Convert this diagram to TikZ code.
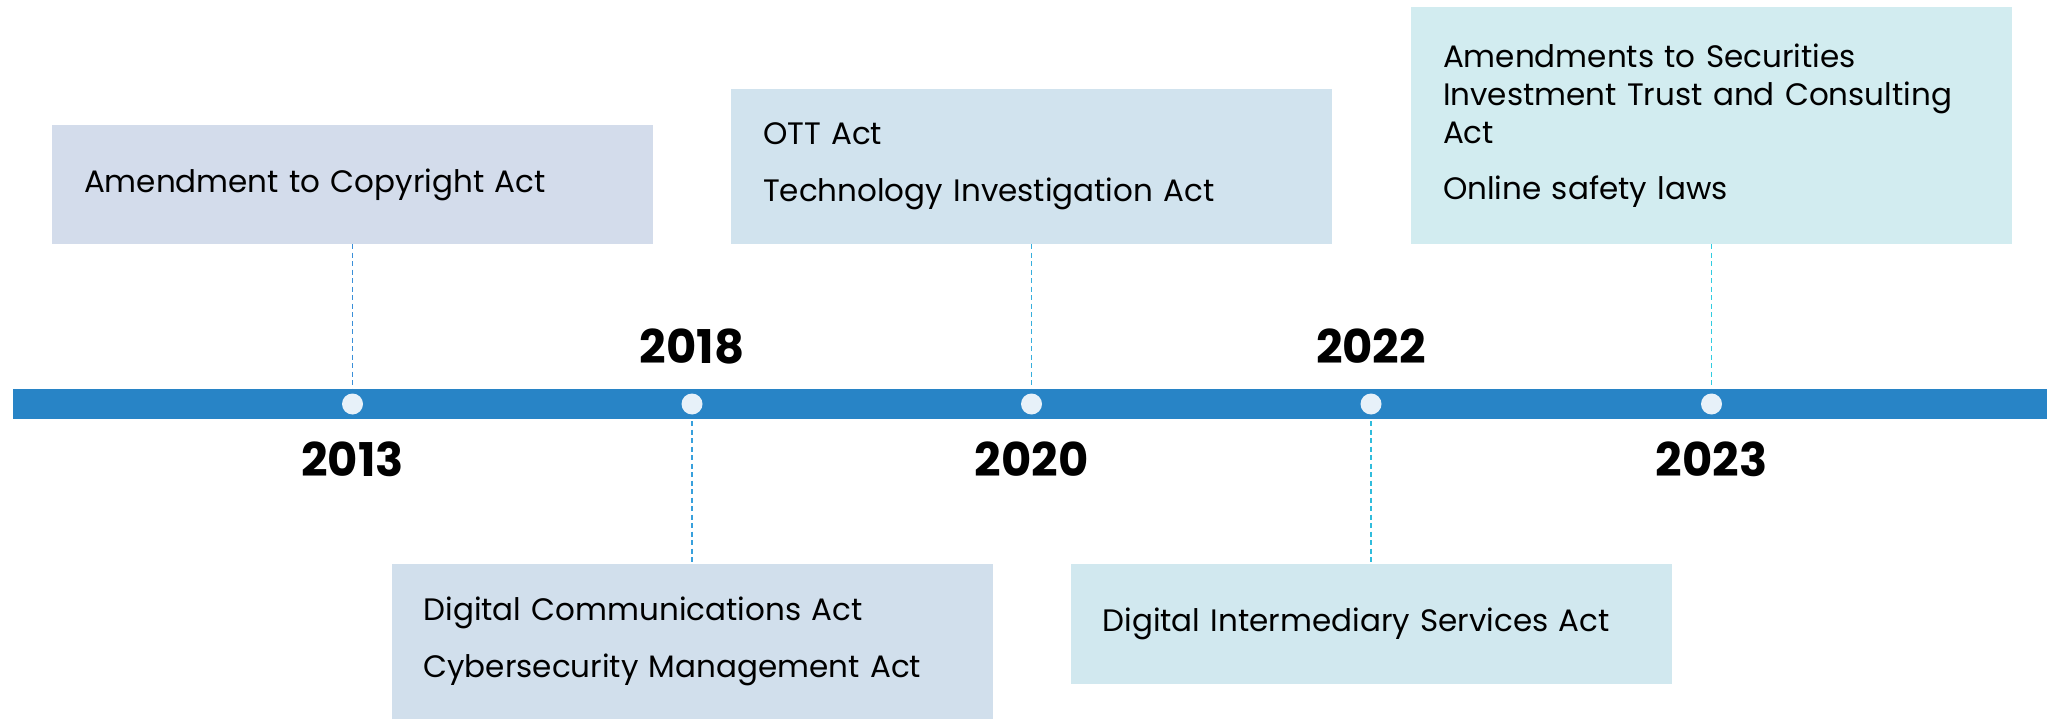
\documentclass[tikz,border=0pt]{standalone}
\usepackage{fontspec}
\setmainfont{Poppins}
\newfontfamily\yearfont{Poppins}[UprightFont=* Bold]
\definecolor{barblue}{HTML}{2884C6}
\definecolor{dotfill}{HTML}{E7F1F9}
\definecolor{boxA}{HTML}{D3DCEB}
\definecolor{boxB}{HTML}{D1DFEC}
\definecolor{boxC}{HTML}{D1E3EE}
\definecolor{boxD}{HTML}{D1E8EF}
\definecolor{boxE}{HTML}{D2ECF0}
\definecolor{dashA}{HTML}{3A8FD8}
\definecolor{dashB}{HTML}{38A0DC}
\definecolor{dashC}{HTML}{36AEDC}
\definecolor{dashD}{HTML}{30BCDC}
\definecolor{dashE}{HTML}{30CCE0}
\tikzset{
  actbox/.style={rectangle, inner sep=0pt, minimum width=601pt, text width=537pt,
    align=left, font=\fontsize{31}{38}\selectfont, text=black},
  yeardot/.style={circle, fill=dotfill, minimum size=21pt, inner sep=0pt},
  yearlabel/.style={font=\yearfont\fontsize{46.5}{46.5}\selectfont, text=black, inner sep=0pt},
  conn/.style={line width=1.3pt, dash pattern=on 5pt off 3.5pt},
}
\begin{document}
\begin{tikzpicture}[x=1pt,y=-1pt]
\useasboundingbox (0,0) rectangle (2047,719);
% dot positions
\coordinate (p1) at (352.5,404);
\coordinate (p2) at (692,404);
\coordinate (p3) at (1031.5,404);
\coordinate (p4) at (1371,404);
\coordinate (p5) at (1711.5,404);
% boxes
\node[actbox, fill=boxA, minimum height=119pt] (b1) at (352.5,184.5) {Amendment to Copyright Act};
\node[actbox, fill=boxB, minimum height=155pt] (b2) at (692,641.5) {Digital Communications Act\\[19pt]Cybersecurity Management Act};
\node[actbox, fill=boxC, minimum height=155pt] (b3) at (1031.5,166.5) {OTT Act\\[19pt]Technology Investigation Act};
\node[actbox, fill=boxD, minimum height=120pt] (b4) at (1371,624) {Digital Intermediary Services Act};
\node[actbox, fill=boxE, minimum height=237pt] (b5) at (1711.5,125.5) {Amendments to Securities\\Investment Trust and Consulting\\Act\\[18pt]Online safety laws};
% connectors
\draw[conn, dashA] (b1.south) -- (p1);
\draw[conn, dashB] (p2) -- (b2.north);
\draw[conn, dashC] (b3.south) -- (p3);
\draw[conn, dashD] (p4) -- (b4.north);
\draw[conn, dashE] (b5.south) -- (p5);
% bar
\fill[barblue] (13,389) rectangle (2047,419);
% dots
\node[yeardot] (d1) at (p1) {};
\node[yeardot] (d2) at (p2) {};
\node[yeardot] (d3) at (p3) {};
\node[yeardot] (d4) at (p4) {};
\node[yeardot] (d5) at (p5) {};
% years
\node[yearlabel, anchor=base] (y1) at (352.5,476) {2013};
\node[yearlabel, anchor=base] (y2) at (692,363) {2018};
\node[yearlabel, anchor=base] (y3) at (1031.5,476) {2020};
\node[yearlabel, anchor=base] (y4) at (1371,363) {2022};
\node[yearlabel, anchor=base] (y5) at (1711.5,476) {2023};
\end{tikzpicture}
\end{document}
